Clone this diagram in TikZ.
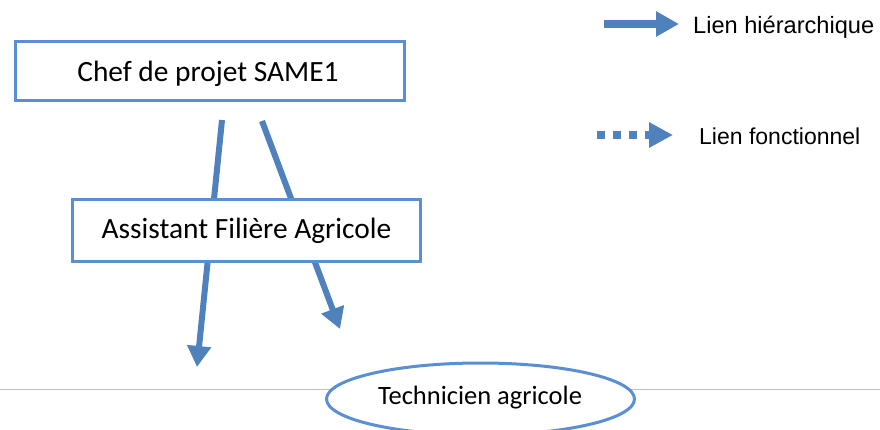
\documentclass[tikz,border=0pt]{standalone}
\usepackage{fontspec}
\setmainfont{Carlito}
\newfontfamily\arialf{Liberation Sans}
\usetikzlibrary{arrows.meta,shapes.geometric}
\definecolor{arrowblue}{HTML}{4F81BD}
\definecolor{boxblue}{HTML}{5A8FD4}
\definecolor{rulegray}{HTML}{BFBFBF}
\tikzset{
  boxnode/.style={draw=boxblue, line width=3pt, fill=white, rectangle, inner sep=0pt},
  lbl/.style={inner sep=0pt, anchor=base, font=\fontsize{29.4}{30}\selectfont},
  leglbl/.style={inner sep=0pt, anchor=base west, font=\arialf\fontsize{23.6}{24}\selectfont},
  hier/.style={draw=arrowblue, line width=6pt, -{Triangle[width=23pt,length=21pt]}},
  leghier/.style={draw=arrowblue, line width=8pt, -{Triangle[width=24pt,length=23pt]}},
  legfonc/.style={draw=arrowblue, line width=8pt, dash pattern=on 8pt off 8pt, -{Triangle[width=24pt,length=24pt]}},
}
\begin{document}
\begin{tikzpicture}[x=1pt,y=-1pt]
\useasboundingbox (0,0) rectangle (880,429);
% gray rule
\coordinate (ruleL) at (0,389);
\coordinate (ruleR) at (880,389);
\draw[rulegray, line width=1pt] (ruleL) -- (ruleR);
% arrow endpoints
\coordinate (s1) at (222,120);
\coordinate (e1) at (197,367);
\coordinate (s2) at (262,121);
\coordinate (e2) at (340,329);
\draw[hier] (s1) -- (e1);
\draw[hier] (s2) -- (e2);
% boxes
\node[boxnode, minimum width=389pt, minimum height=59pt] (chef) at (210,71) {};
\node[lbl] (chefT) at (208,81) {Chef de projet SAME1};
\node[boxnode, minimum width=348pt, minimum height=62pt] (assist) at (246.5,230.8) {};
\node[lbl] (assistT) at (246.5,238.3) {Assistant Filière Agricole};
% ellipse
\node[draw=boxblue, line width=3pt, fill=white, ellipse, minimum width=308pt, minimum height=72pt, inner sep=0pt] (tech) at (480.5,399) {};
\node[lbl, font=\fontsize{26.5}{27}\selectfont] (techT) at (480,404) {Technicien agricole};
% legend
\coordinate (l1s) at (604,24);
\coordinate (l1e) at (679,24);
\draw[leghier] (l1s) -- (l1e);
\node[leglbl] (l1T) at (693,33.5) {Lien hiérarchique};
\coordinate (l2s) at (597,135);
\coordinate (l2e) at (673,135);
\draw[legfonc] (l2s) -- (l2e);
\node[leglbl, font=\arialf\fontsize{23}{24}\selectfont] (l2T) at (699,144) {Lien fonctionnel};
\end{tikzpicture}
\end{document}
